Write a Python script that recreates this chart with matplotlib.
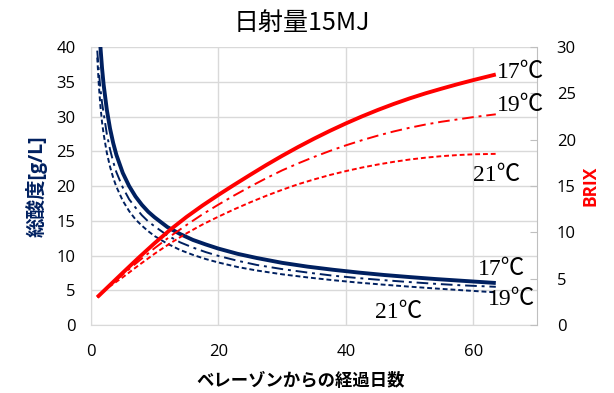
import matplotlib.pyplot as plt

plt.rcParams['font.family'] = ['Open Sans', 'Noto Sans CJK JP', 'DejaVu Sans']

# days after veraison (acidity readings)
days = [1, 1.25, 1.5, 1.75, 2, 2.5, 3, 3.5, 4, 5, 6, 7, 8, 9, 10, 12, 14, 16, 18, 20,
        23, 26, 30, 34, 38, 42, 46, 50, 54, 58, 63.5]

# total acidity [g/L]
acid_17 = [49, 43.8, 40.0, 37.0, 34.6, 31.0, 28.3, 26.2, 24.5, 21.9, 20.0, 18.5, 17.3, 16.3, 15.5,
           14.1, 13.1, 12.25, 11.6, 11.0, 10.25, 9.65, 8.95, 8.4, 7.95, 7.55, 7.2, 6.9, 6.62, 6.38, 6.05]
acid_19 = [39.5, 36.5, 34, 32, 30.5, 27.5, 25.3, 23.5, 22.0, 19.8, 18.1, 16.9, 15.8, 14.9, 14.2,
           12.9, 11.9, 11.15, 10.5, 9.95, 9.25, 8.65, 8.05, 7.55, 7.1, 6.75, 6.45, 6.18, 5.93, 5.72, 5.5]
acid_21 = [38.5, 34.5, 31.5, 29.2, 27.5, 24.8, 22.8, 21.2, 19.9, 17.9, 16.4, 15.2, 14.3, 13.5, 12.8,
           11.7, 10.8, 10.1, 9.5, 9.0, 8.35, 7.85, 7.3, 6.85, 6.45, 6.1, 5.8, 5.52, 5.26, 5.02, 4.7]

# days after veraison (BRIX readings)
days_b = [1, 2.5, 5, 7.5, 10, 12.5, 15, 17.5, 20, 22.5, 25, 27.5, 30, 32.5, 35, 37.5, 40,
          42.5, 45, 47.5, 50, 52.5, 55, 57.5, 60, 63.5]
brix_17 = [3.0, 3.99, 5.64, 7.27, 8.84, 10.32, 11.67, 12.9, 14.05, 15.15, 16.22, 17.27, 18.27,
           19.22, 20.12, 20.97, 21.77, 22.52, 23.22, 23.87, 24.47, 25.02, 25.52, 26.0, 26.45, 27.05]
brix_19 = [3.0, 4.0, 5.45, 6.9, 8.3, 9.6, 10.8, 11.95, 13.0, 14.0, 14.95, 15.85, 16.7, 17.45,
           18.15, 18.8, 19.4, 19.95, 20.45, 20.9, 21.3, 21.65, 21.95, 22.2, 22.45, 22.75]
brix_21 = [3.0, 3.95, 5.15, 6.45, 7.7, 8.85, 9.9, 10.85, 11.7, 12.5, 13.25, 13.95, 14.6, 15.2,
           15.72, 16.2, 16.62, 17.0, 17.33, 17.62, 17.87, 18.07, 18.23, 18.35, 18.43, 18.48]

navy = '#002060'
red = '#FF0000'
grid_c = '#D9D9D9'
dashdot = (0, (6, 2.5, 1.5, 2.5))
dashed = (0, (2.5, 1.5))

fig = plt.figure(figsize=(6.14, 3.93), dpi=100)
ax = fig.add_axes([0.148, 0.173, 0.727, 0.707])
ax2 = ax.twinx()

ax.plot(days, acid_17, color=navy, lw=2.8, solid_capstyle='butt', solid_joinstyle='round')
ax.plot(days, acid_19, color=navy, lw=1.4, linestyle=dashdot)
ax.plot(days, acid_21, color=navy, lw=1.4, linestyle=dashed)

ax2.plot(days_b, brix_17, color=red, lw=2.8, solid_capstyle='butt', solid_joinstyle='round')
ax2.plot(days_b, brix_19, color=red, lw=1.4, linestyle=dashdot)
ax2.plot(days_b, brix_21, color=red, lw=1.4, linestyle=dashed)

ax.set_xlim(0, 70)
ax.set_ylim(0, 40)
ax2.set_ylim(0, 30)
ax.set_xticks([0, 20, 40, 60])
ax.set_yticks(range(0, 41, 5))
ax2.set_yticks(range(0, 31, 5))

ax.grid(True, color=grid_c, lw=1)
ax.set_axisbelow(True)
for s in ['top', 'right']:
    ax.spines[s].set_visible(False)
for s in ['top', 'left', 'bottom']:
    ax2.spines[s].set_visible(False)
ax.spines['left'].set_color(grid_c)
ax.spines['bottom'].set_color(grid_c)
ax2.spines['right'].set_color('#BFBFBF')

ax.tick_params(axis='both', length=0, labelsize=12, labelcolor='#000000')
ax.tick_params(axis='y', pad=11)
ax.tick_params(axis='x', pad=14)
ax2.tick_params(axis='y', direction='in', length=5, color='#BFBFBF', labelsize=12, pad=14)

ax.set_ylabel('総酸度[g/L]', color=navy, fontsize=14, fontweight='bold', labelpad=6)
ax2.set_ylabel('BRIX', color=red, fontsize=12.5, fontweight='bold', labelpad=4)
ax.set_xlabel('ベレーゾンからの経過日数', fontsize=12.5, fontweight='bold')
ax.xaxis.set_label_coords(0.471, -0.168)
fig.text(0.492, 0.942, '日射量15MJ', ha='center', va='center', fontsize=18,
         family=['Noto Sans CJK JP'])

# temperature labels
lab = dict(fontsize=17, family=['Liberation Serif', 'Noto Sans CJK JP'], va='center', ha='left')
ax2.text(63.7, 27.3, '17℃', **lab)
ax2.text(63.7, 23.7, '19℃', **lab)
ax2.text(60.0, 16.1, '21℃', **lab)
ax.text(60.7, 8.06, '17℃', **lab)
ax.text(62.3, 3.74, '19℃', **lab)
ax.text(44.6, 1.73, '21℃', **lab)

fig.savefig('out.png', dpi=100)
